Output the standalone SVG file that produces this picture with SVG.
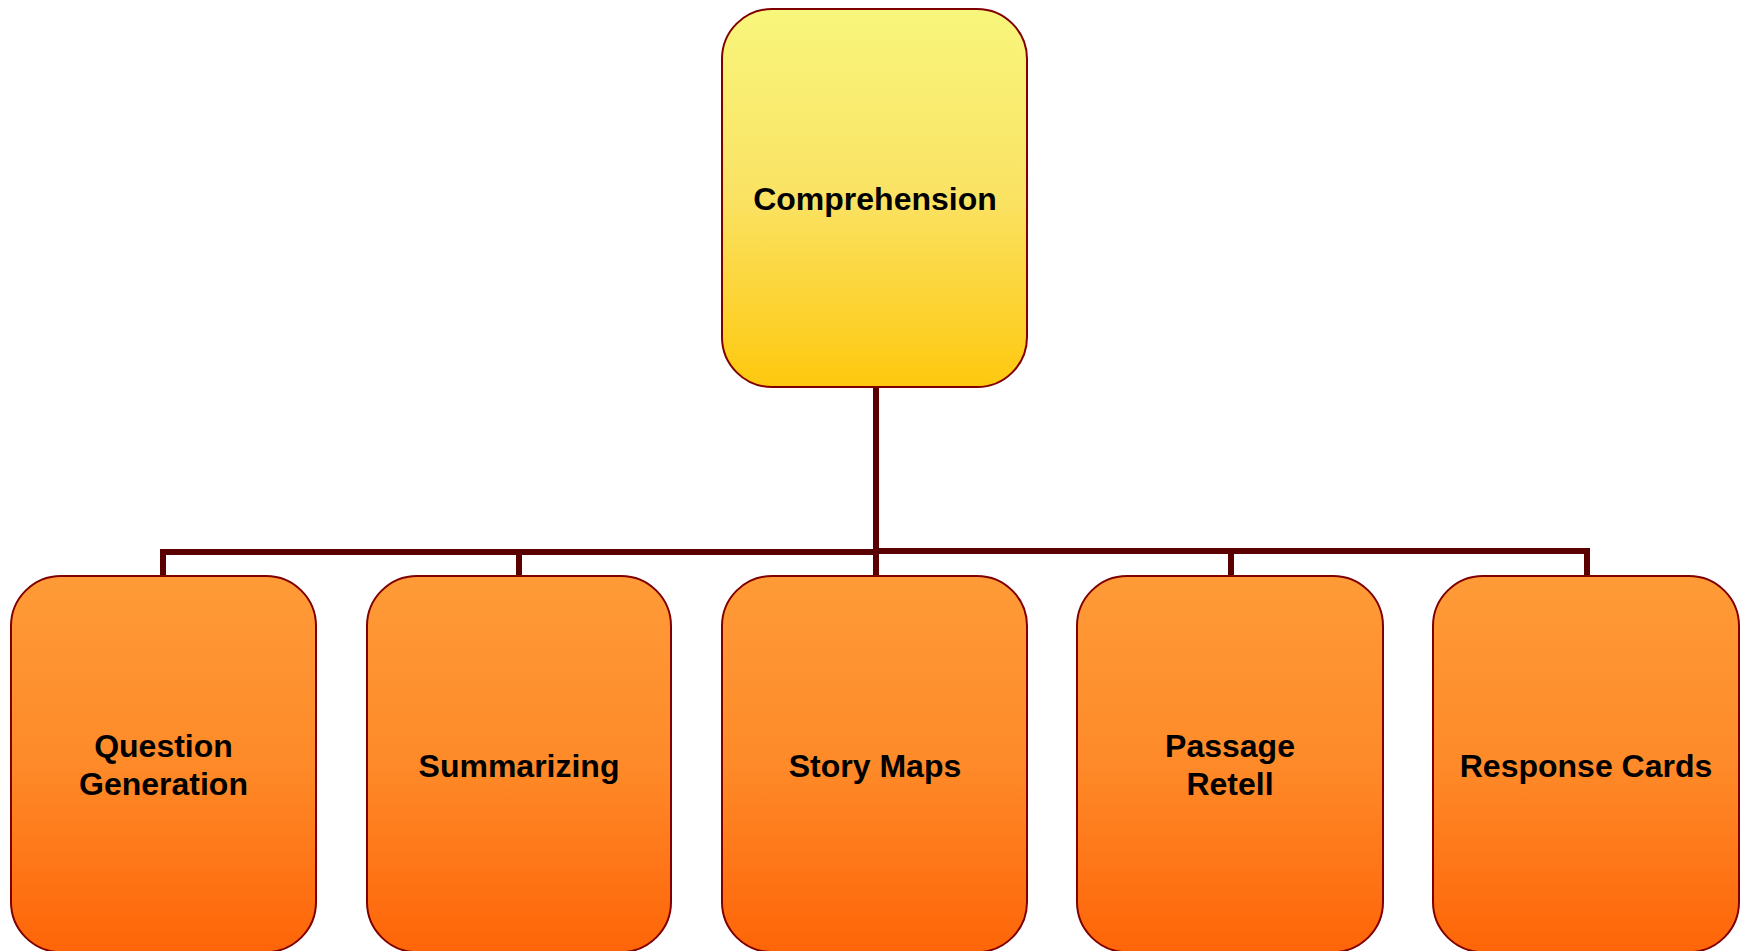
<svg xmlns="http://www.w3.org/2000/svg" width="1747" height="951" viewBox="0 0 1747 951">
<defs>
<linearGradient id="gy" x1="0" y1="0" x2="0" y2="1">
<stop offset="0" stop-color="#f8f67c"/>
<stop offset="0.5" stop-color="#fae263"/>
<stop offset="1" stop-color="#fec80e"/>
</linearGradient>
<linearGradient id="go" x1="0" y1="0" x2="0" y2="1">
<stop offset="0" stop-color="#fe9b37"/>
<stop offset="0.5" stop-color="#fe8a29"/>
<stop offset="1" stop-color="#fe6508"/>
</linearGradient>
<style>
.box{stroke:#800000;stroke-width:2}
.top{fill:url(#gy)}
.child{fill:url(#go)}
.lbl{font-family:"Liberation Sans",Arial,sans-serif;font-weight:bold;font-size:32px;fill:#000;text-anchor:middle}
.conn{fill:none;stroke:#5a0000;stroke-width:6;stroke-linejoin:miter}
</style>
</defs>
<g id="connectors">
<path class="conn" d="M876 387 V552 H163 V576"/>
<path class="conn" d="M876 387 V552 H519 V576"/>
<path class="conn" d="M876 387 V576"/>
<path class="conn" d="M876 387 V551 H1231 V576"/>
<path class="conn" d="M876 387 V551 H1587 V576"/>
</g>
<g id="comprehension">
<rect class="box top" x="722" y="9" width="305" height="378" rx="50" ry="50"/>
<text class="lbl" x="875" y="210">Comprehension</text>
</g>
<g id="question-generation">
<rect class="box child" x="11" y="576" width="305" height="376" rx="50" ry="50"/>
<text class="lbl" x="163.5" y="757">Question</text>
<text class="lbl" x="163.5" y="795">Generation</text>
</g>
<g id="summarizing">
<rect class="box child" x="367" y="576" width="304" height="376" rx="50" ry="50"/>
<text class="lbl" x="519" y="777">Summarizing</text>
</g>
<g id="story-maps">
<rect class="box child" x="722" y="576" width="305" height="376" rx="50" ry="50"/>
<text class="lbl" x="875" y="777">Story Maps</text>
</g>
<g id="passage-retell">
<rect class="box child" x="1077" y="576" width="306" height="376" rx="50" ry="50"/>
<text class="lbl" x="1230" y="757">Passage</text>
<text class="lbl" x="1230" y="795">Retell</text>
</g>
<g id="response-cards">
<rect class="box child" x="1433" y="576" width="306" height="376" rx="50" ry="50"/>
<text class="lbl" x="1586" y="777">Response Cards</text>
</g>
</svg>
